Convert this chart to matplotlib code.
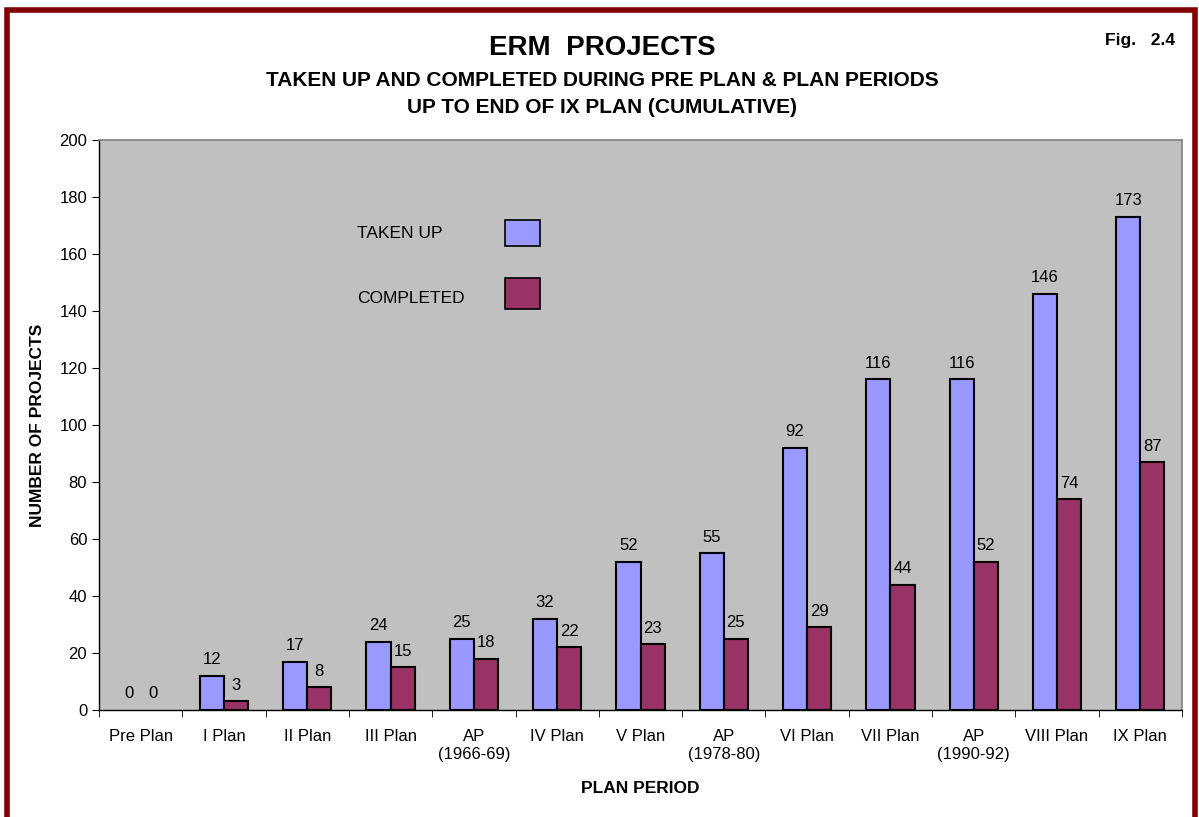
import matplotlib.pyplot as plt
import numpy as np
from matplotlib.patches import Rectangle

plt.rcParams['font.family'] = ['Liberation Sans', 'DejaVu Sans']

periods = ["Pre Plan", "I Plan", "II Plan", "III Plan", "AP\n(1966-69)", "IV Plan", "V Plan",
           "AP\n(1978-80)", "VI Plan", "VII Plan", "AP\n(1990-92)", "VIII Plan", "IX Plan"]
taken_up = [0, 12, 17, 24, 25, 32, 52, 55, 92, 116, 116, 146, 173]
completed = [0, 3, 8, 15, 18, 22, 23, 25, 29, 44, 52, 74, 87]
series = ['TAKEN UP', 'COMPLETED']
colors = ['#9999FF', '#993366']

fig = plt.figure(figsize=(11.99, 8.17), dpi=100)
ax = fig.add_axes([0.0826, 0.131, 0.9032, 0.6976])
ax.set_facecolor('#C0C0C0')

x = np.arange(len(periods))
w = 0.29
for vals, off, col in [(taken_up, -w / 2, colors[0]), (completed, w / 2, colors[1])]:
    edges = ['black' if v > 0 else 'none' for v in vals]
    ax.bar(x + off, vals, w, color=col, edgecolor=edges, linewidth=1.5)
    for i, v in enumerate(vals):
        ax.text(x[i] + off, v + 3, str(v), ha='center', va='bottom', fontsize=12)

ax.set_xlim(-0.5, len(periods) - 0.5)
ax.set_ylim(0, 200)
ax.set_yticks(range(0, 201, 20))
ax.set_xticks(x)
ax.set_xticklabels(periods, fontsize=12, va='top')
ax.set_xticks(np.arange(-0.5, len(periods), 1), minor=True)
ax.tick_params(axis='x', which='major', length=0, pad=14)
ax.tick_params(axis='x', which='minor', length=5, direction='out')
ax.tick_params(axis='y', labelsize=12, length=5, direction='out')

for s in ['top', 'right']:
    ax.spines[s].set_color('#808080')
    ax.spines[s].set_linewidth(1.2)
for s in ['left', 'bottom']:
    ax.spines[s].set_color('black')
    ax.spines[s].set_linewidth(1.0)

ax.set_ylabel('NUMBER OF PROJECTS', fontsize=12.5, fontweight='bold', labelpad=10)
ax.set_xlabel('PLAN PERIOD', fontsize=12.5, fontweight='bold', labelpad=14)

# legend drawn as in the original: label on the left, swatch on the right
leg_rows = [(0.8368, 0.814, 0.0456), (0.7228, 0.7035, 0.0544)]
for (ty, by, h), lab, col in zip(leg_rows, series, colors):
    ax.text(0.2382, ty, lab, transform=ax.transAxes, ha='left', va='center', fontsize=12.5)
    ax.add_patch(Rectangle((0.3749, by), 0.0323, h, transform=ax.transAxes,
                           facecolor=col, edgecolor='black', linewidth=1.2))

fig.text(0.502, 0.941, 'ERM  PROJECTS', ha='center', va='center', fontsize=20, fontweight='bold')
fig.text(0.502, 0.902, 'TAKEN UP AND COMPLETED DURING PRE PLAN & PLAN PERIODS', ha='center', va='center',
         fontsize=15, fontweight='bold')
fig.text(0.502, 0.868, 'UP TO END OF IX PLAN (CUMULATIVE)', ha='center', va='center',
         fontsize=15, fontweight='bold')
fig.text(0.951, 0.951, 'Fig.   2.4', ha='center', va='center', fontsize=12.5, fontweight='bold')

fig.patches.append(Rectangle((7 / 1199, -0.05), 1188 / 1199, 1.05 - 10 / 817, transform=fig.transFigure,
                             fill=False, edgecolor='#800000', linewidth=4))

fig.savefig('out.png', dpi=100)
